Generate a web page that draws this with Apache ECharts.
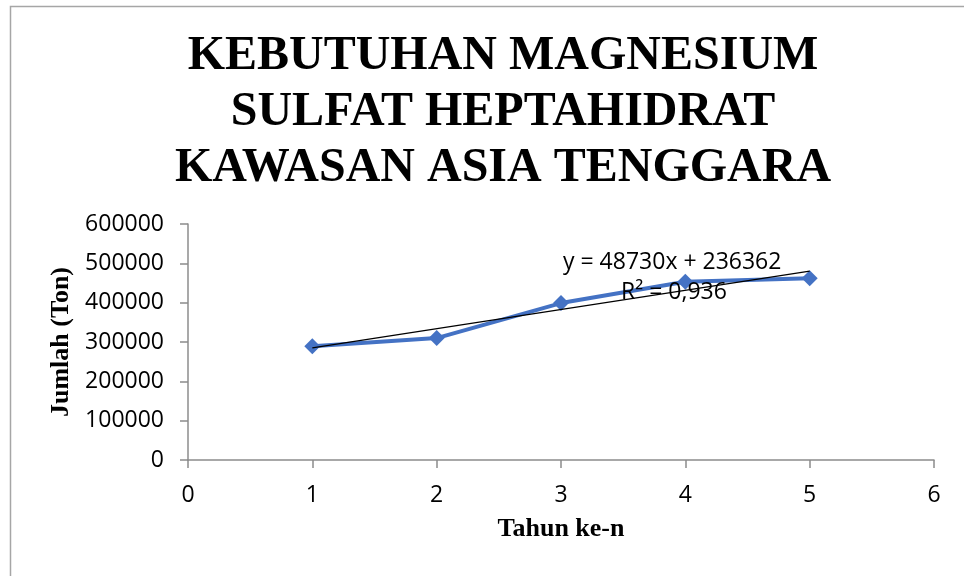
<!DOCTYPE html>
<html lang="en">
<head>
  <meta charset="UTF-8">
  <title>Kebutuhan Magnesium Sulfat Heptahidrat</title>
  <script src="https://cdn.jsdelivr.net/npm/echarts@6/dist/echarts.min.js"></script>
  <style>
    html, body { margin: 0; padding: 0; background: #fff; }
  </style>
</head>
<body>
<div id="main" style="width:964px;height:576px;"></div>
<script type="text/javascript">
  // data
  var tahun = [1, 2, 3, 4, 5];
  var jumlah = [289000, 310000, 399000, 453000, 462000];
  // trendline as printed on the chart
  var slope = 48730;
  var intercept = 236362;
  var r2Text = '0,936';

  var dataLine = tahun.map(function (t, i) { return [t, jumlah[i]]; });
  var trend = [tahun[0], tahun[tahun.length - 1]].map(function (t) {
    return [t, slope * t + intercept];
  });

  var serif = '"Liberation Serif", "Times New Roman", serif';
  var sans = '"Open Sans", sans-serif';
  var axisGray = '#8c8c8c';

  var myChart = echarts.init(document.getElementById('main'));
  myChart.setOption({
    animation: false,
    title: {
      text: 'KEBUTUHAN MAGNESIUM\nSULFAT HEPTAHIDRAT\nKAWASAN ASIA TENGGARA',
      left: 498,
      textAlign: 'center',
      top: 24,
      textStyle: {
        fontFamily: serif,
        fontWeight: 'bold',
        fontSize: 48,
        lineHeight: 56,
        color: '#000'
      }
    },
    grid: { left: 188, right: 30, top: 224, bottom: 116 },
    xAxis: {
      type: 'value',
      min: 0, max: 6, interval: 1,
      name: 'Tahun ke-n',
      nameLocation: 'middle',
      nameGap: 56,
      nameTextStyle: { fontFamily: serif, fontWeight: 'bold', fontSize: 26, color: '#000' },
      axisLine: { lineStyle: { color: axisGray, width: 1.5 } },
      axisTick: { show: true, length: 8, lineStyle: { color: axisGray, width: 1.5 } },
      axisLabel: { margin: 24, fontFamily: sans, fontSize: 23, color: '#000' },
      splitLine: { show: false }
    },
    yAxis: {
      type: 'value',
      min: 0, max: 600000, interval: 100000,
      name: 'Jumlah (Ton)',
      nameLocation: 'middle',
      nameGap: 105,
      nameTextStyle: { fontFamily: serif, fontWeight: 'bold', fontSize: 26, color: '#000' },
      axisLine: { show: true, lineStyle: { color: axisGray, width: 1.5 } },
      axisTick: { show: true, length: 8, lineStyle: { color: axisGray, width: 1.5 } },
      axisLabel: {
        margin: 24, fontFamily: sans, fontSize: 23, color: '#000',
        formatter: function (v) { return String(v); }
      },
      splitLine: { show: false }
    },
    graphic: [
      {
        type: 'rect',
        shape: { x: 10.5, y: 6.5, width: 1200, height: 1200 },
        style: { fill: null, stroke: '#a6a6a6', lineWidth: 1.5 },
        silent: true
      },
      {
        type: 'text',
        left: 563, top: 251,
        z: 10,
        style: { text: 'y = ' + slope + 'x + ' + intercept, font: '23px ' + sans, fill: '#000' }
      },
      {
        type: 'text',
        left: 621, top: 281,
        z: 10,
        style: { text: 'R\u00b2 = ' + r2Text, font: '23px ' + sans, fill: '#000' }
      }
    ],
    series: [
      {
        name: 'Kebutuhan',
        type: 'line',
        data: dataLine,
        symbol: 'diamond',
        symbolSize: 16,
        lineStyle: { color: '#4472c4', width: 4 },
        itemStyle: { color: '#4472c4' },
        z: 2
      },
      {
        name: 'Trend',
        type: 'line',
        data: trend,
        symbol: 'none',
        lineStyle: { color: '#000', width: 1.2 },
        z: 3
      }
    ]
  });
</script>
</body>
</html>
